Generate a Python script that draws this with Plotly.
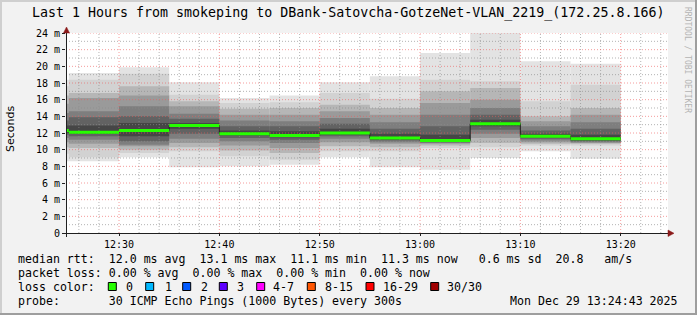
import plotly.graph_objects as go
import pandas as pd

# ---------------- data ----------------
day = "2025-12-29"
interval_start = ["12:20", "12:25", "12:30", "12:35", "12:40", "12:45",
                  "12:50", "12:55", "13:00", "13:05", "13:10", "13:15"]
median_ms = [12.3, 12.1, 12.3, 12.9, 11.9, 11.7, 12.0, 11.4, 11.1, 13.1, 11.6, 11.3]

# smoke band edges (ms), outer -> inner
smoke_hi = [
    [18.4, 17.6, 16.5, 15.5, 14.4, 13.5, 12.9],
    [19.2, 18.4, 16.8, 16.2, 14.6, 13.9, 12.9],
    [19.9, 19.1, 17.6, 16.5, 15.2, 14.0, 13.2],
    [18.1, 16.6, 15.8, 15.2, 14.3, 13.7, 13.2],
    [16.2, 15.6, 14.9, 14.2, 13.5, 12.8, 12.3],
    [16.5, 15.7, 15.0, 14.2, 13.4, 12.8, 12.2],
    [18.1, 16.8, 15.4, 14.6, 13.8, 13.1, 12.5],
    [18.8, 16.1, 15.0, 14.2, 13.3, 12.5, 11.9],
    [21.6, 18.4, 17.0, 15.6, 14.2, 12.8, 11.8],
    [24.0, 18.2, 17.4, 16.0, 15.0, 14.2, 13.6],
    [20.6, 15.8, 14.0, 13.4, 12.8, 12.3, 11.9],
    [20.3, 17.8, 15.0, 14.2, 13.3, 12.5, 11.8],
]
smoke_lo = [
    [8.6, 9.5, 10.3, 10.9, 11.4, 11.8, 12.0],
    [8.6, 9.1, 10.2, 10.7, 11.2, 11.6, 11.9],
    [9.1, 9.6, 10.0, 10.4, 10.6, 11.0, 11.6],
    [7.9, 9.8, 10.3, 10.8, 11.3, 11.9, 12.5],
    [8.0, 9.2, 9.9, 10.5, 11.0, 11.4, 11.7],
    [8.2, 8.8, 9.6, 10.2, 10.8, 11.2, 11.5],
    [9.1, 9.8, 10.4, 10.9, 11.3, 11.6, 11.8],
    [7.9, 9.8, 10.3, 10.7, 10.9, 11.1, 11.2],
    [7.6, 10.2, 10.5, 10.7, 10.8, 10.9, 11.0],
    [9.0, 10.3, 10.8, 11.4, 11.9, 12.4, 12.8],
    [9.8, 10.5, 10.7, 10.9, 11.1, 11.3, 11.5],
    [8.9, 10.5, 10.7, 10.8, 10.9, 11.0, 11.1],
]
band_colors = ['#e3e3e3', '#d2d2d2', '#b6b6b6', '#9a9a9a', '#7e7e7e', '#626262', '#464646']

x_tick_labels = ["12:30", "12:40", "12:50", "13:00", "13:10", "13:20"]
y_tick_vals = [0, 2, 4, 6, 8, 10, 12, 14, 16, 18, 20, 22, 24]
y_tick_text = ["0", "2 m", "4 m", "6 m", "8 m", "10 m", "12 m", "14 m", "16 m",
               "18 m", "20 m", "22 m", "24 m"]

title = "Last 1 Hours from smokeping to DBank-Satovcha-GotzeNet-VLAN_2219_(172.25.8.166)"
legend_lines = [
    "median rtt:  12.0 ms avg  13.1 ms max  11.1 ms min  11.3 ms now   0.6 ms sd  20.8   am/s",
    "packet loss: 0.00 % avg  0.00 % max  0.00 % min  0.00 % now",
    "loss color:",
    "probe:       30 ICMP Echo Pings (1000 Bytes) every 300s",
]
loss_labels = ["0", "1", "2", "3", "4-7", "8-15", "16-29", "30/30"]
loss_colors = ["#26ff00", "#00b8ff", "#0059ff", "#5e00ff", "#ff00ff", "#ff5500", "#ff0000", "#a00000"]
timestamp = "Mon Dec 29 13:24:43 2025"
x_range = ["2025-12-29 12:24:43", "2025-12-29 13:24:43"]

# ---------------- geometry helpers ----------------
W, H = 697, 315
L, R, T, B = 66, 668, 33, 233
def px(x):
    return (x - L) / (R - L)
def py(y):
    return (B - y) / (B - T)

MONO = "DejaVu Sans Mono"
starts = pd.to_datetime([f"{day} {s}" for s in interval_start])
ends = starts + pd.Timedelta(minutes=5)

fig = go.Figure()

# smoke bands
for k, col in enumerate(band_colors):
    lo = [row[k] for row in smoke_lo]
    hi = [row[k] for row in smoke_hi]
    fig.add_trace(go.Bar(
        x=starts, base=lo, y=[h - l for h, l in zip(hi, lo)],
        offset=0, width=300000, marker=dict(color=col, line=dict(width=0)),
        hoverinfo="skip", showlegend=False))

# grid lines (drawn above smoke)
x0 = pd.Timestamp(x_range[0]); x1 = pd.Timestamp(x_range[1])
minor_x = [t for t in pd.date_range(f"{day} 12:26", f"{day} 13:24", freq="2min") if t.minute % 10 != 0]
major_x = [pd.Timestamp(f"{day} {s}") for s in x_tick_labels]

def vlines(ts):
    xs, ys = [], []
    for t in ts:
        xs += [t, t, None]; ys += [0, 24, None]
    return xs, ys
def hlines(vs):
    xs, ys = [], []
    for v in vs:
        xs += [x0, x1, None]; ys += [v, v, None]
    return xs, ys

minor_y = [v for v in range(1, 24, 2)]
major_y = [v for v in y_tick_vals if v > 0]
gx, gy = vlines(minor_x); hx, hy = hlines(minor_y)
fig.add_trace(go.Scatter(x=gx + hx, y=gy + hy, mode="lines",
                         line=dict(color="rgba(140,140,140,0.65)", width=1, dash="1px,2px"),
                         hoverinfo="skip", showlegend=False))
gx, gy = vlines(major_x); hx, hy = hlines(major_y)
fig.add_trace(go.Scatter(x=gx + hx, y=gy + hy, mode="lines",
                         line=dict(color="rgba(240,90,90,0.6)", width=1, dash="1px,2px"),
                         hoverinfo="skip", showlegend=False))

# dark median step line
fig.add_trace(go.Scatter(x=list(starts) + [ends[-1]], y=median_ms + [median_ms[-1]],
                         mode="lines", line=dict(color="#202020", width=1, shape="hv"),
                         hoverinfo="skip", showlegend=False))
# green median segments (0 loss)
mx, my = [], []
for s, e, m in zip(starts, ends, median_ms):
    mx += [s, e, None]; my += [m, m, None]
fig.add_trace(go.Scatter(x=mx, y=my, mode="lines", line=dict(color=loss_colors[0], width=3),
                         hoverinfo="skip", showlegend=False))

# ---------------- shapes ----------------
shapes = []
def rect(xa, ya, xb, yb, fill, line_color=None, lw=0):
    shapes.append(dict(type="rect", xref="paper", yref="paper",
                       x0=px(xa), x1=px(xb), y0=py(yb), y1=py(ya),
                       fillcolor=fill, line=dict(color=line_color or fill, width=lw), layer="above"))
def seg(xa, ya, xb, yb, color, w=1):
    shapes.append(dict(type="line", xref="paper", yref="paper",
                       x0=px(xa), x1=px(xb), y0=py(ya), y1=py(yb),
                       line=dict(color=color, width=w), layer="above"))
# frame
rect(0, 0, W, 2, "#cfcfcf"); rect(0, 0, 2, H, "#cfcfcf")
rect(0, H - 2, W, H, "#9e9e9e"); rect(W - 2, 0, W, H, "#9e9e9e")
# axes
seg(62, B + 0.5, 670, B + 0.5, "#202020")
seg(66.5, 237, 66.5, 30, "#202020")
def tri(pts, color):
    d = "M " + " L ".join(f"{px(a)},{py(b)}" for a, b in pts) + " Z"
    shapes.append(dict(type="path", xref="paper", yref="paper", path=d,
                       fillcolor=color, line=dict(color=color, width=0.5), layer="above"))
tri([(668, 230), (668, 236.5), (674, 233.3)], "#8b1a1a")
tri([(63.5, 33), (69.5, 33), (66.5, 27)], "#8b1a1a")
# loss color boxes
box_left = [108.3, 145.7, 182.7, 219.3, 256.7, 307.3, 366.0, 430.7]
label_left = [124.0, 162.7, 199.3, 235.3, 270.7, 322.7, 380.7, 445.0]
for bx, c in zip(box_left, loss_colors):
    rect(bx, 282.5, bx + 8, 290.5, c, "#000000", 1)

# ---------------- annotations ----------------
ann = []
def text(x, y, s, size, anchor="left", font=MONO, color="#000000", angle=0):
    ann.append(dict(xref="paper", yref="paper", x=px(x), y=py(y), text=s,
                    showarrow=False, xanchor=anchor, yanchor="middle", textangle=angle,
                    font=dict(family=font, size=size, color=color)))
text(347.5, 13, title, 13.3, anchor="center")
text(688, 60, "RRDTOOL / TOBI OETIKER", 8, anchor="center", color="#b4b4b4", angle=90)
text(10, 129, "Seconds", 11, anchor="center", font="DejaVu Sans", angle=-90)
line_y = [259, 272.5, 286.7, 301]
for s, yy in zip(legend_lines, line_y):
    text(16, yy, s.replace(" ", "&nbsp;"), 11.6)
for lx, lab in zip(label_left, loss_labels):
    text(lx, 286.7, lab, 11.6)
text(680, 301, timestamp.replace(" ", "&nbsp;"), 11.6, anchor="right")

fig.update_layout(
    width=W, height=H, margin=dict(l=L, r=W - R, t=T, b=H - B),
    paper_bgcolor="#f2f2f2", plot_bgcolor="#ffffff",
    barmode="overlay", showlegend=False,
    shapes=shapes, annotations=ann,
    xaxis=dict(type="date", range=x_range, showgrid=False, zeroline=False, showline=False,
               tickvals=major_x, ticktext=x_tick_labels, ticks="outside", ticklen=2,
               tickcolor="#202020", tickfont=dict(family=MONO, size=10, color="#000000")),
    yaxis=dict(range=[0, 24], showgrid=False, zeroline=False, showline=False,
               tickvals=y_tick_vals, ticktext=y_tick_text, ticks="outside", ticklen=3,
               tickcolor="#202020", tickfont=dict(family=MONO, size=10, color="#000000")),
)
fig.write_html("out.html")
